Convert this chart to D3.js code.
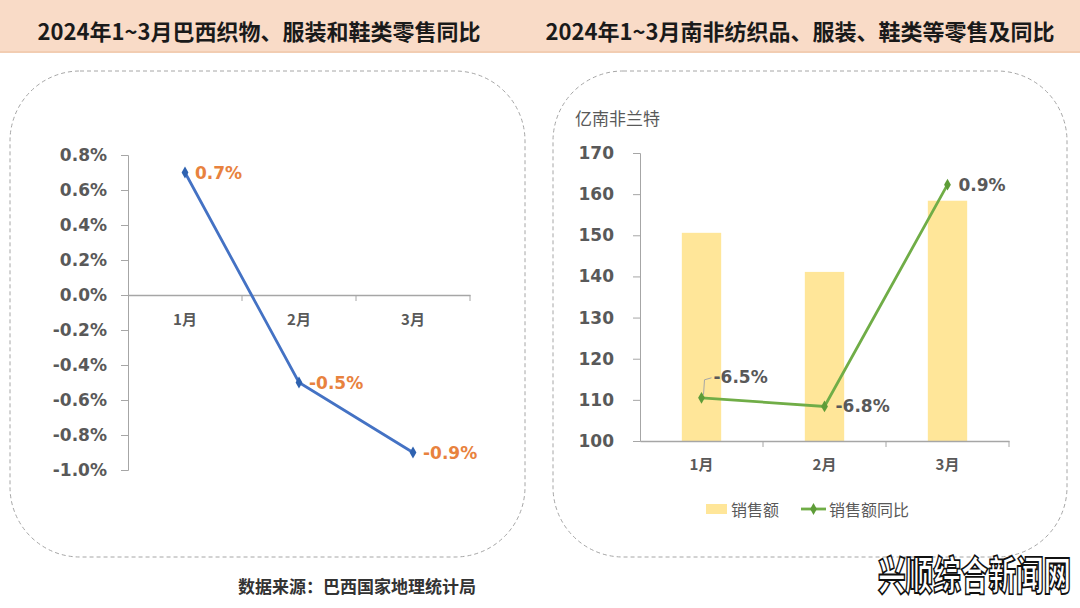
<!DOCTYPE html>
<html>
<head>
<meta charset="utf-8">
<script src="https://cdn.jsdelivr.net/npm/d3@7"></script>
<style>
  body { margin: 0; background: #fff; }
  svg { display: block; }
</style>
</head>
<body>
<div id="chart"></div>
<script>
'use strict'

// left chart: Brazil textiles, clothing & shoes retail yoy
const months = ['1月', '2月', '3月']
const brYoy = [0.7, -0.5, -0.9]
const brTicks = [0.8, 0.6, 0.4, 0.2, 0.0, -0.2, -0.4, -0.6, -0.8, -1.0]

// right chart: South Africa retail sales (亿南非兰特) and yoy
const zaSales = [150.6, 141.1, 158.4]
const zaYoy = [-6.5, -6.8, 0.9]
const zaTicks = [100, 110, 120, 130, 140, 150, 160, 170]

const titles = ['2024年1~3月巴西织物、服装和鞋类零售同比', '2024年1~3月南非纺织品、服装、鞋类等零售及同比']
const source = '数据来源：巴西国家地理统计局'
const watermark = '兴顺综合新闻网'

const W = 1080
const H = 608
const cjk = '"Noto Sans CJK SC", "Noto Sans", sans-serif'
const num = '"DejaVu Sans", sans-serif'
const gray = '#595959'
const axisColor = '#a6a6a6'

// plain hyphen for negatives, like the original
const locale = d3.formatLocale({ decimal: '.', thousands: ',', grouping: [3], currency: ['', ''], minus: '-' })
const pct = v => locale.format('.1f')(v) + '%'

const svg = d3.select('#chart').append('svg')
  .attr('width', W)
  .attr('height', H)

// header band
svg.append('rect')
  .attr('width', W).attr('height', 52)
  .attr('fill', '#f9dbc7')
svg.append('line')
  .attr('x1', 0).attr('x2', W).attr('y1', 52).attr('y2', 52)
  .attr('stroke', '#f2cdb2').attr('stroke-width', 2)

svg.selectAll('.title')
  .data(titles)
  .enter()
  .append('text')
    .attr('x', (d, i) => i === 0 ? 259 : 800)
    .attr('y', 30)
    .attr('text-anchor', 'middle')
    .attr('dominant-baseline', 'central')
    .style('font-family', cjk)
    .style('font-size', '22px')
    .style('font-weight', 700)
    .style('fill', '#1a1a1a')
    .text(d => d)

// dashed rounded boxes
const boxes = [{ x: 10, w: 515 }, { x: 553, w: 514 }]
svg.selectAll('.box')
  .data(boxes)
  .enter()
  .append('rect')
    .attr('x', d => d.x)
    .attr('y', 71)
    .attr('width', d => d.w)
    .attr('height', 486)
    .attr('rx', 70)
    .attr('fill', 'none')
    .attr('stroke', '#a6a6a6')
    .attr('stroke-width', 1)
    .attr('stroke-dasharray', '4,3')

// ---------- left chart ----------
const lx = d3.scaleBand().domain(months).range([128, 470])
const ly = d3.scaleLinear().domain([-1.0, 0.8]).range([470, 155])

const left = svg.append('g')

const lyAxis = left.append('g')
  .attr('transform', 'translate(128,0)')
  .call(d3.axisLeft(ly).tickValues(brTicks).tickSize(7).tickPadding(14).tickFormat(pct))
lyAxis.select('.domain').attr('stroke', axisColor)
lyAxis.selectAll('.tick line').attr('stroke', axisColor)
lyAxis.selectAll('.tick text')
  .style('font-family', num).style('font-size', '17px').style('font-weight', 700)
  .style('fill', gray)

const lxAxis = left.append('g')
  .attr('transform', `translate(0,${ly(0)})`)
  .call(d3.axisBottom(lx).tickSize(0).tickPadding(19))
lxAxis.select('.domain').attr('stroke', axisColor).attr('stroke-width', 1.5)
lxAxis.selectAll('.tick text')
  .style('font-family', cjk).style('font-size', '15px').style('font-weight', 700)
  .style('fill', gray)
lxAxis.selectAll('.bound')
  .data(months)
  .enter()
  .append('line')
    .attr('x1', d => lx(d) + lx.bandwidth()).attr('x2', d => lx(d) + lx.bandwidth())
    .attr('y1', 0).attr('y2', 6)
    .attr('stroke', axisColor)

const brLine = d3.line()
  .x((d, i) => lx(months[i]) + lx.bandwidth() / 2)
  .y(d => ly(d))

left.append('path')
  .datum(brYoy)
  .attr('d', brLine)
  .attr('fill', 'none')
  .attr('stroke', '#4472c4')
  .attr('stroke-width', 2.8)

const diamond = d3.symbol().type(d3.symbolDiamond).size(40)

left.selectAll('.pt')
  .data(brYoy)
  .enter()
  .append('path')
    .attr('d', diamond)
    .attr('transform', (d, i) => `translate(${lx(months[i]) + lx.bandwidth() / 2},${ly(d)})`)
    .attr('fill', '#2e62b0')

left.selectAll('.lbl')
  .data(brYoy)
  .enter()
  .append('text')
    .attr('x', (d, i) => lx(months[i]) + lx.bandwidth() / 2 + 10)
    .attr('y', d => ly(d))
    .attr('dominant-baseline', 'central')
    .style('font-family', num).style('font-size', '17px').style('font-weight', 700)
    .style('fill', '#e8823e')
    .text(pct)

// ---------- right chart ----------
const rx = d3.scaleBand().domain(months).range([640, 1009])
const ry = d3.scaleLinear().domain([100, 170]).range([441, 153])
const ry2 = d3.scaleLinear().domain([-8, 2]).range([441, 153])
const barW = rx.bandwidth() * 0.32
const cx = m => rx(m) + rx.bandwidth() / 2

const right = svg.append('g')

right.selectAll('.bar')
  .data(zaSales)
  .enter()
  .append('rect')
    .attr('x', (d, i) => cx(months[i]) - barW / 2)
    .attr('y', d => ry(d))
    .attr('width', barW)
    .attr('height', d => ry(100) - ry(d))
    .attr('fill', '#ffe699')

const ryAxis = right.append('g')
  .attr('transform', 'translate(640,0)')
  .call(d3.axisLeft(ry).tickValues(zaTicks).tickSize(7).tickPadding(19))
ryAxis.select('.domain').attr('stroke', axisColor)
ryAxis.selectAll('.tick line').attr('stroke', axisColor)
ryAxis.selectAll('.tick text')
  .style('font-family', num).style('font-size', '17px').style('font-weight', 700)
  .style('fill', gray)

const rxAxis = right.append('g')
  .attr('transform', `translate(0,${ry(100)})`)
  .call(d3.axisBottom(rx).tickSize(0).tickPadding(18))
rxAxis.select('.domain').attr('stroke', axisColor).attr('stroke-width', 1.5)
rxAxis.selectAll('.tick text')
  .style('font-family', cjk).style('font-size', '15px').style('font-weight', 700)
  .style('fill', gray)
rxAxis.selectAll('.bound')
  .data(months)
  .enter()
  .append('line')
    .attr('x1', d => rx(d) + rx.bandwidth()).attr('x2', d => rx(d) + rx.bandwidth())
    .attr('y1', 0).attr('y2', 6)
    .attr('stroke', axisColor)

right.append('text')
  .attr('x', 575).attr('y', 117)
  .attr('dominant-baseline', 'central')
  .style('font-family', cjk).style('font-size', '17px')
  .style('fill', gray)
  .text('亿南非兰特')

const zaLine = d3.line()
  .x((d, i) => cx(months[i]))
  .y(d => ry2(d))

right.append('path')
  .datum(zaYoy)
  .attr('d', zaLine)
  .attr('fill', 'none')
  .attr('stroke', '#70ad47')
  .attr('stroke-width', 2.8)

right.selectAll('.pt')
  .data(zaYoy)
  .enter()
  .append('path')
    .attr('d', diamond)
    .attr('transform', (d, i) => `translate(${cx(months[i])},${ry2(d)})`)
    .attr('fill', '#5e9c38')

// leader line for the first label
right.append('path')
  .attr('d', `M${cx(months[0]) + 2},${ry2(zaYoy[0]) - 3} L${cx(months[0]) + 3},${ry2(zaYoy[0]) - 18} L${cx(months[0]) + 10},${ry2(zaYoy[0]) - 20}`)
  .attr('fill', 'none')
  .attr('stroke', '#a6a6a6')
  .attr('stroke-width', 1)

const labelDy = [-21, 0, 0]
right.selectAll('.lbl')
  .data(zaYoy)
  .enter()
  .append('text')
    .attr('x', (d, i) => cx(months[i]) + (i === 0 ? 12 : 11))
    .attr('y', (d, i) => ry2(d) + labelDy[i])
    .attr('dominant-baseline', 'central')
    .style('font-family', num).style('font-size', '17px').style('font-weight', 700)
    .style('fill', gray)
    .text(pct)

// legend
const legend = right.append('g').attr('transform', 'translate(0,509)')
legend.append('rect')
  .attr('x', 706).attr('y', -5).attr('width', 21).attr('height', 10)
  .attr('fill', '#ffe699')
legend.append('text')
  .attr('x', 731).attr('y', 0)
  .attr('dominant-baseline', 'central')
  .style('font-family', cjk).style('font-size', '16px').style('fill', gray)
  .text('销售额')
legend.append('line')
  .attr('x1', 801).attr('x2', 826).attr('y1', 0).attr('y2', 0)
  .attr('stroke', '#70ad47').attr('stroke-width', 2.8)
legend.append('path')
  .attr('d', diamond)
  .attr('transform', 'translate(813.5,0)')
  .attr('fill', '#5e9c38')
legend.append('text')
  .attr('x', 829).attr('y', 0)
  .attr('dominant-baseline', 'central')
  .style('font-family', cjk).style('font-size', '16px').style('fill', gray)
  .text('销售额同比')

// footer
svg.append('text')
  .attr('x', 357).attr('y', 585)
  .attr('text-anchor', 'middle')
  .attr('dominant-baseline', 'central')
  .style('font-family', cjk).style('font-size', '17px').style('font-weight', 700)
  .style('fill', '#333')
  .text(source)

// watermark, squeezed horizontally
svg.append('g')
  .attr('transform', 'translate(878,590) scale(0.69,1)')
  .append('text')
    .attr('x', 0).attr('y', 0)
    .style('font-family', cjk).style('font-size', '40px').style('font-weight', 900)
    .style('fill', '#fff')
    .style('stroke', '#111')
    .style('stroke-width', 1.8)
    .text(watermark)
</script>
</body>
</html>
